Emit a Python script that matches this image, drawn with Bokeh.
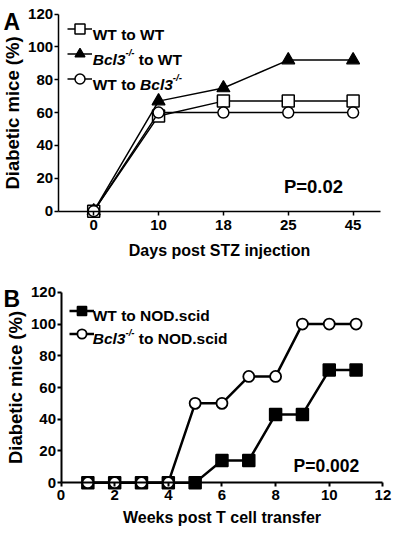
from bokeh.plotting import figure
from bokeh.layouts import column
from bokeh.models import FixedTicker, Label, Legend, LegendItem, Range1d
from bokeh.embed import file_html
from bokeh.resources import INLINE

FONT = "Liberation Sans"

# ---------------- data ----------------
days_a = [0, 10, 18, 25, 45]
wt_to_wt = [0, 58, 67, 67, 67]
bcl3_to_wt = [0, 67, 75, 92, 92]
wt_to_bcl3 = [0, 60, 60, 60, 60]

weeks_b = [1, 2, 3, 4, 5, 6, 7, 8, 9, 10, 11]
wt_to_nod = [0, 0, 0, 0, 0, 14, 14, 43, 43, 71, 71]
bcl3_to_nod = [0, 0, 0, 0, 50, 50, 67, 67, 100, 100, 100]

y_ticks = [0, 20, 40, 60, 80, 100, 120]
x_ticks_b = [0, 2, 4, 6, 8, 10, 12]
y_max = 120
x_max_b = 12

# ---------------- layout helpers ----------------
SX, SY = 392 / 408, 530 / 546          # squeeze the 408x546 design into 392x530
W = 392
H_A, H_B = 262, 268


def X(x):
    return x * SX


def Y(y):
    return y * SY


# Liberation Sans Bold advance widths (per 1000 em)
W_BOLD = {"W": 944, "T": 611, " ": 278, "t": 333, "o": 611, "B": 722, "c": 556,
          "l": 278, "3": 556, "-": 333, "/": 278, "N": 722, "O": 778, "D": 722,
          ".": 278, "s": 556, "i": 278, "d": 611}


def text_width(s, size):
    return sum(W_BOLD.get(ch, 556) for ch in s) / 1000.0 * size


def label(p, x, y, text, size, style="bold", **kw):
    p.add_layout(Label(x=x, y=y, x_units="screen", y_units="screen", text=text,
                       text_font=FONT, text_font_style=style,
                       text_font_size=f"{size:.1f}px", text_color="black", **kw))


def rich(p, h, top, x_ref, yc_ref, segments, size=15.5):
    x = X(x_ref)
    base = h - (Y(yc_ref) - top) - 0.358 * size
    for txt, italic, sup in segments:
        fs = size * 0.62 if sup else size
        y = base + (0.45 * size if sup else 0)
        lead = len(txt) - len(txt.lstrip(" "))
        x += text_width(" " * lead, fs)
        label(p, x, y, txt.strip(" "), fs, "bold italic" if italic else "bold",
              text_baseline="alphabetic", text_align="left")
        x += text_width(txt.lstrip(" "), fs)


def style(p, lw, xtitle, xstand, xtitle_stand, yaxis_x, xbounds):
    p.grid.visible = False
    p.outline_line_color = None
    p.background_fill_color = "white"
    p.border_fill_color = "white"
    for ax in (p.xaxis[0], p.yaxis[0]):
        ax.axis_line_width = lw
        ax.major_tick_line_width = lw
        ax.major_tick_out = 4
        ax.major_tick_in = 0
        ax.minor_tick_line_color = None
        ax.major_label_text_font = FONT
        ax.major_label_text_font_style = "bold"
        ax.major_label_text_font_size = "15px"
        ax.major_label_text_color = "black"
        ax.axis_label_text_font = FONT
        ax.axis_label_text_font_style = "bold"
        ax.axis_label_text_color = "black"
    ya = p.yaxis[0]
    ya.fixed_location = yaxis_x
    ya.bounds = (0, y_max)
    ya.major_label_standoff = 1
    ya.axis_label = "Diabetic mice (%)"
    ya.axis_label_text_font_size = "18.5px"
    ya.axis_label_standoff = 2
    ya.ticker = FixedTicker(ticks=y_ticks)
    xa = p.xaxis[0]
    xa.fixed_location = 0
    xa.bounds = xbounds
    xa.axis_label = xtitle
    xa.axis_label_text_font_size = "16px"
    xa.major_label_standoff = xstand
    xa.axis_label_standoff = xtitle_stand


def legend(p, items, loc, gw, gh):
    lg = Legend(items=[LegendItem(label="", renderers=r) for r in items],
                location=loc, glyph_width=gw, glyph_height=gh, spacing=0,
                padding=0, margin=0, label_standoff=0, label_width=0,
                label_height=10, border_line_color=None, background_fill_alpha=0)
    p.add_layout(lg)


# ---------------- panel A ----------------
TOP_A = 0
x_a = list(range(len(days_a)))
# pixel geometry of the design -> data ranges (the frame fills the whole figure)
ppx_a = (X(367) - X(97)) / (len(days_a) - 1)
xa0 = -X(97) / ppx_a
xa1 = (len(days_a) - 1) + (W - X(367)) / ppx_a
xa_end = (len(days_a) - 1) + (X(395) - X(367)) / ppx_a
yaxis_xa = xa0 + X(60) / ppx_a
ppy_a = (Y(217) - Y(14)) / y_max
ya0 = -(H_A - Y(217)) / ppy_a
ya1 = y_max + Y(14) / ppy_a

pa = figure(width=W, height=H_A, output_backend="svg", toolbar_location=None,
            x_range=Range1d(xa0, xa1), y_range=Range1d(ya0, ya1), min_border=0)
style(pa, 1.5, "Days post STZ injection", 5, 8, yaxis_xa, (yaxis_xa, xa_end))
pa.xaxis[0].ticker = FixedTicker(ticks=x_a)
pa.xaxis[0].major_label_overrides = {i: str(d) for i, d in enumerate(days_a)}

l_tri = pa.line(x_a, bcl3_to_wt, line_color="black", line_width=1.5)
s_tri = pa.scatter(x_a, bcl3_to_wt, marker="triangle", size=13,
                   fill_color="black", line_color="black", line_width=1.2)
l_sq = pa.line(x_a, wt_to_wt, line_color="black", line_width=1.5)
s_sq = pa.scatter(x_a, wt_to_wt, marker="square", size=12,
                  fill_color="white", line_color="black", line_width=1.5)
l_ci = pa.line(x_a, wt_to_bcl3, line_color="black", line_width=1.5)
s_ci = pa.scatter(x_a, wt_to_bcl3, marker="circle", size=11,
                  fill_color="white", line_color="black", line_width=1.5)

pitch_a = Y(55) - Y(29)
leg_top_a = Y(29) - pitch_a / 2
legend(pa, [[l_sq, s_sq], [l_tri, s_tri], [l_ci, s_ci]],
       (round(X(83) - pitch_a / 2), round(H_A - (leg_top_a + 3 * pitch_a))),
       round(pitch_a), round(pitch_a))
rich(pa, H_A, TOP_A, 96, 29, [("WT to WT", False, False)])
rich(pa, H_A, TOP_A, 96, 55, [("Bcl3", True, False), ("-/-", True, True),
                              (" to WT", False, False)])
rich(pa, H_A, TOP_A, 96, 81, [("WT to ", False, False), ("Bcl3", True, False),
                              ("-/-", True, True)])
label(pa, X(295), H_A - Y(192), "P=0.02", 18.5,
      text_baseline="alphabetic", text_align="left")
label(pa, X(3), H_A - Y(22), "A", 23, text_baseline="alphabetic", text_align="left")

# ---------------- panel B ----------------
TOP_B = H_A
ppx_b = (X(398) - X(63)) / x_max_b
xb0 = -X(63) / ppx_b
xb1 = x_max_b + (W - X(398)) / ppx_b
ppy_b = (Y(496.7) - Y(300.7)) / y_max
yb0 = -(H_B - (Y(496.7) - TOP_B)) / ppy_b
yb1 = y_max + (Y(300.7) - TOP_B) / ppy_b

pb = figure(width=W, height=H_B, output_backend="svg", toolbar_location=None,
            x_range=Range1d(xb0, xb1), y_range=Range1d(yb0, yb1), min_border=0)
style(pb, 2, "Weeks post T cell transfer", 3, 6, 0, (0, x_max_b))
pb.xaxis[0].ticker = FixedTicker(ticks=x_ticks_b)

l_fs = pb.line(weeks_b, wt_to_nod, line_color="black", line_width=2.5)
s_fs = pb.scatter(weeks_b, wt_to_nod, marker="square", size=12,
                  fill_color="black", line_color="black", line_width=1.5)
l_oc = pb.line(weeks_b, bcl3_to_nod, line_color="black", line_width=2.5)
s_oc = pb.scatter(weeks_b, bcl3_to_nod, marker="circle", size=11,
                  fill_color="white", line_color="black", line_width=1.8)

pitch_b = Y(343) - Y(319)
leg_top_b = Y(319) - TOP_B - pitch_b / 2
legend(pb, [[l_fs, s_fs], [l_oc, s_oc]],
       (round(X(85) - 12.5), round(H_B - (leg_top_b + 2 * pitch_b))),
       25, round(pitch_b))
rich(pb, H_B, TOP_B, 96, 319, [("WT to NOD.scid", False, False)])
rich(pb, H_B, TOP_B, 96, 343, [("Bcl3", True, False), ("-/-", True, True),
                               (" to NOD.scid", False, False)])
label(pb, X(305), H_B - (Y(480) - TOP_B), "P=0.002", 17.5,
      text_baseline="alphabetic", text_align="left")
label(pb, X(3), H_B - (Y(307) - TOP_B), "B", 23, text_baseline="alphabetic",
      text_align="left")

layout = column(pa, pb, spacing=0)
open("out.html", "w").write(file_html(layout, INLINE))
